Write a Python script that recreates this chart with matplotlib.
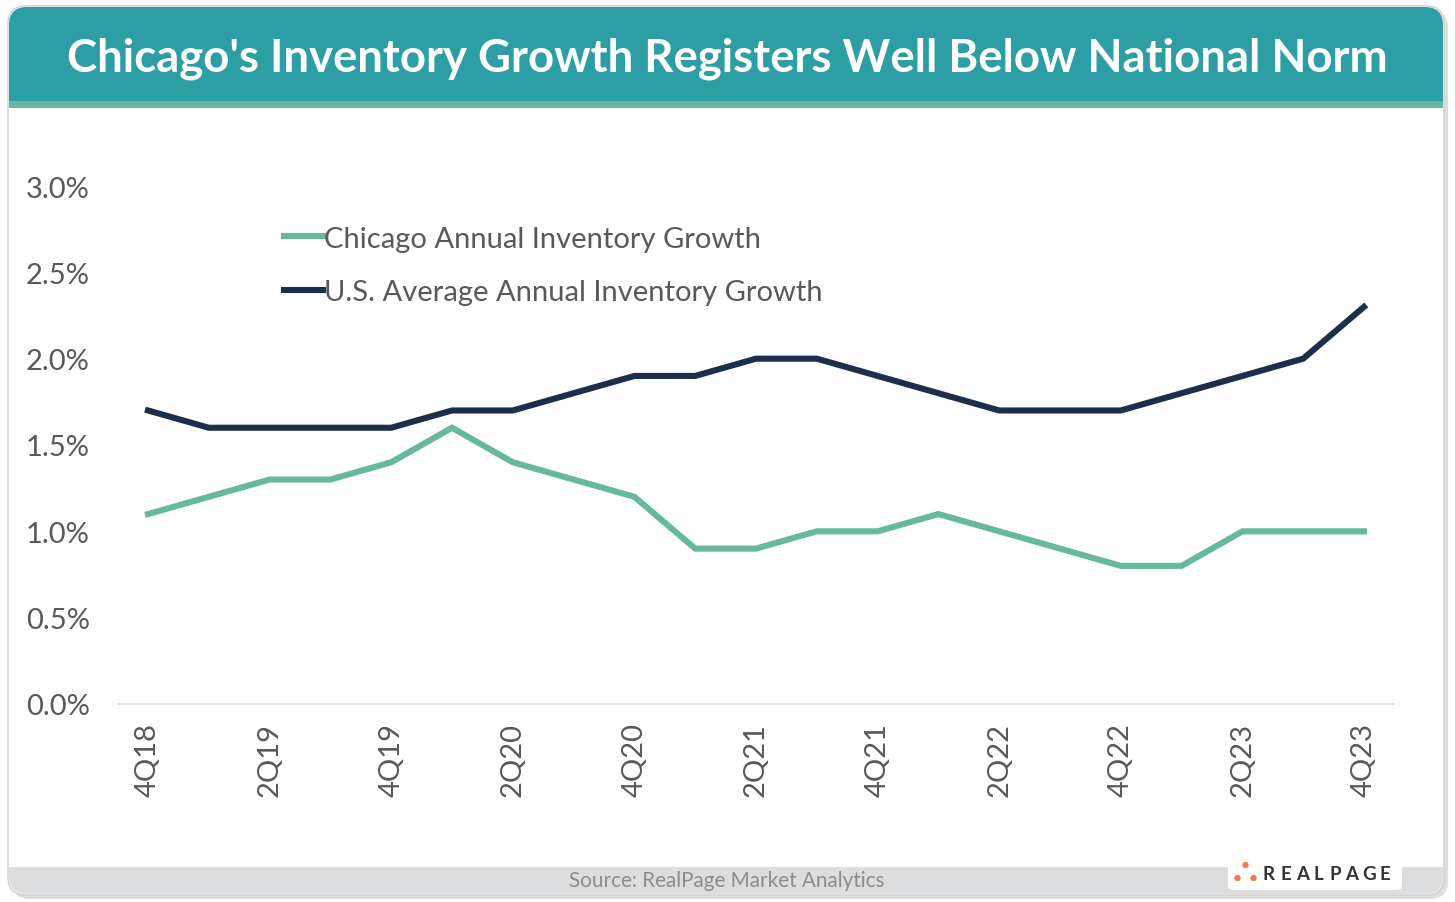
import matplotlib
matplotlib.use('Agg')
import matplotlib.pyplot as plt
from matplotlib.patches import FancyBboxPatch, Rectangle, Circle
from matplotlib.ticker import FuncFormatter

plt.rcParams['font.family'] = ['Lato', 'DejaVu Sans']

# 資料
quarters = ['4Q18', '1Q19', '2Q19', '3Q19', '4Q19', '1Q20', '2Q20', '3Q20', '4Q20',
            '1Q21', '2Q21', '3Q21', '4Q21', '1Q22', '2Q22', '3Q22', '4Q22',
            '1Q23', '2Q23', '3Q23', '4Q23']
chicago = [1.1, 1.2, 1.3, 1.3, 1.4, 1.6, 1.4, 1.3, 1.2, 0.9, 0.9,
           1.0, 1.0, 1.1, 1.0, 0.9, 0.8, 0.8, 1.0, 1.0, 1.0]
us_avg = [1.7, 1.6, 1.6, 1.6, 1.6, 1.7, 1.7, 1.8, 1.9, 1.9, 2.0,
          2.0, 1.9, 1.8, 1.7, 1.7, 1.7, 1.8, 1.9, 2.0, 2.3]
y_ticks = [0.0, 0.5, 1.0, 1.5, 2.0, 2.5, 3.0]

W, H = 1455, 903
fig = plt.figure(figsize=(W / 100, H / 100), dpi=100)

# 背景卡片 (像素座標)
bg = fig.add_axes([0, 0, 1, 1])
bg.set_xlim(0, W)
bg.set_ylim(H, 0)
bg.axis('off')

# 陰影
bg.add_patch(FancyBboxPatch((12, 11), 1436, 889, boxstyle='round,pad=0,rounding_size=18',
                            fc='#c8c8c8', ec='none', alpha=0.6))
# 卡片
bg.add_patch(FancyBboxPatch((8, 7), 1436, 889, boxstyle='round,pad=0,rounding_size=18',
                            fc='white', ec='#d0d0d0', lw=1))
# 標題列
bg.add_patch(FancyBboxPatch((9, 8), 1434, 60, boxstyle='round,pad=0,rounding_size=18',
                            fc='#2e9ea5', ec='none'))
bg.add_patch(Rectangle((9, 40), 1434, 62, fc='#2e9ea5', ec='none'))
bg.add_patch(Rectangle((9, 102), 1434, 7, fc='#66b7a2', ec='none'))
# 頁尾
bg.add_patch(FancyBboxPatch((9, 850), 1434, 45, boxstyle='round,pad=0,rounding_size=18',
                            fc='#dcdddf', ec='none'))
bg.add_patch(Rectangle((9, 868), 1434, 10, fc='#dcdddf', ec='none'))
bg.add_patch(Rectangle((9, 845), 1434, 23, fc='white', ec='none'))
# logo 白底
bg.add_patch(FancyBboxPatch((1228, 858), 174, 33, boxstyle='round,pad=0,rounding_size=5',
                            fc='white', ec='none'))
bg.add_patch(Rectangle((1228, 858), 174, 12, fc='white', ec='none'))

bg.text(727, 59, "Chicago's Inventory Growth Registers Well Below National Norm",
        color='white', fontsize=32.8, fontweight='bold', ha='center', va='center')
bg.text(727, 881, 'Source: RealPage Market Analytics', color='#8c8c8c',
        fontsize=14.9, ha='center', va='center')

# logo
for cx, cy in [(1245.5, 866), (1237.5, 879), (1253.5, 879)]:
    bg.add_patch(Circle((cx, cy), 3.2, fc='#f07b52', ec='none'))
for i, ch in enumerate('REALPAGE'):
    bg.text(1269 + i * 16.6, 875, ch, color='#333333', fontsize=13.5,
            fontweight='bold', ha='center', va='center')

# 主圖
left, right, bottom_px, top_px = 117.6, 1394.4, 705, 187
ax = fig.add_axes([left / W, 1 - bottom_px / H, (right - left) / W, (bottom_px - top_px) / H])
ax.set_facecolor('none')
x = list(range(len(quarters)))
ax.plot(x, chicago, color='#66b89e', lw=4.4, solid_joinstyle='miter',
        label='Chicago Annual Inventory Growth', clip_on=False)
ax.plot(x, us_avg, color='#1b2f4b', lw=4.4, solid_joinstyle='miter',
        label='U.S. Average Annual Inventory Growth', clip_on=False)

ax.set_xlim(-0.5, len(quarters) - 0.5)
ax.set_ylim(0, 3.0)
ax.set_yticks(y_ticks)
ax.yaxis.set_major_formatter(FuncFormatter(lambda v, p: f'{v:.1f}%'))
ax.set_xticks(x[::2])
ax.set_xticklabels(quarters[::2], rotation=90)
ax.tick_params(axis='both', length=0, labelsize=21, colors='#595959')
ax.tick_params(axis='y', pad=20)
ax.tick_params(axis='x', pad=13)
for s in ['top', 'right', 'left']:
    ax.spines[s].set_visible(False)
ax.spines['bottom'].set_color('#d9d9d9')
ax.spines['bottom'].set_linewidth(1.2)

leg = ax.legend(loc='upper left', bbox_to_anchor=((272 - left) / (right - left), (bottom_px - 215) / (bottom_px - top_px)),
                frameon=False, fontsize=21, handlelength=1.34, handletextpad=0.03,
                labelspacing=0.95, borderaxespad=0)
for t in leg.get_texts():
    t.set_color('#595959')

fig.savefig('out.png', dpi=100)
